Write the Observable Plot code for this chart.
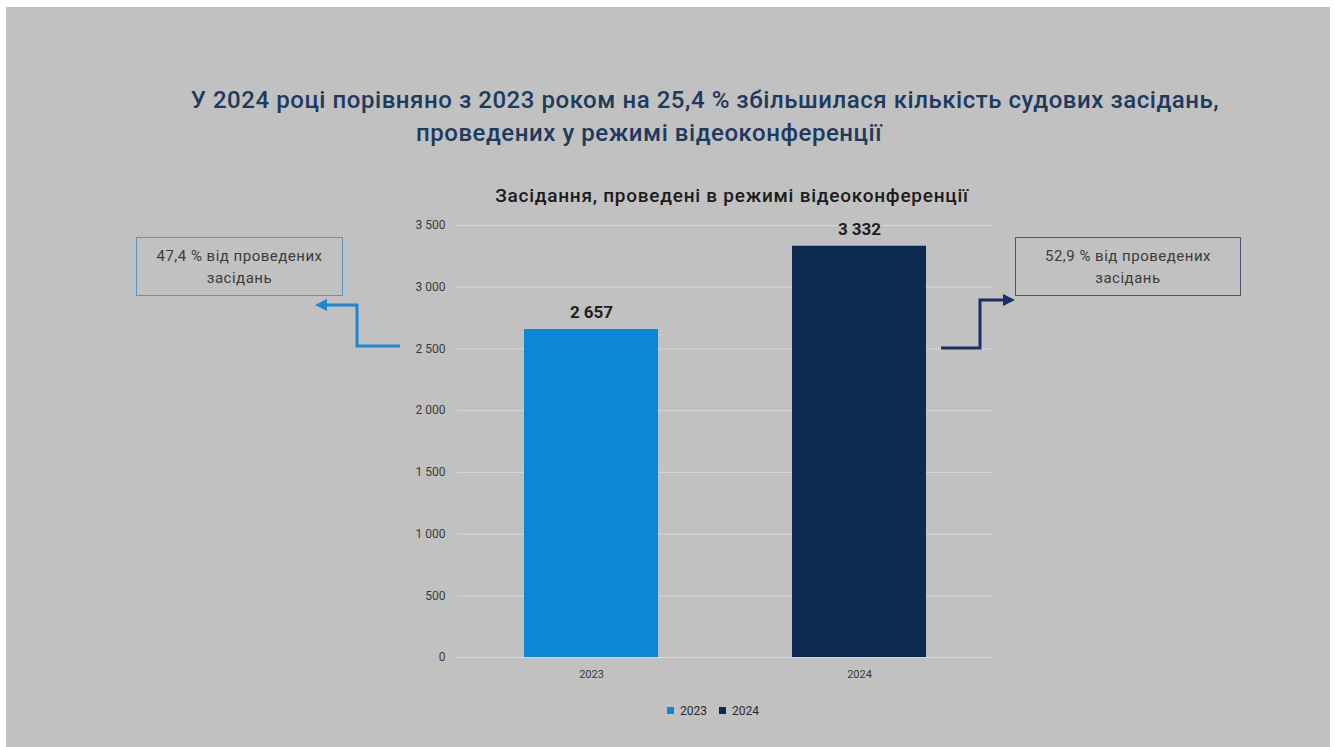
<!DOCTYPE html>
<html><head><meta charset="utf-8">
<script src="https://cdn.jsdelivr.net/npm/d3@7"></script>
<script src="https://cdn.jsdelivr.net/npm/@observablehq/plot@0.6"></script>
<style>
html,body{margin:0;padding:0;background:#fff;}
body{width:1335px;height:747px;position:relative;overflow:hidden;font-family:Roboto,"Noto Sans",sans-serif;}
#bg{position:absolute;left:6px;top:7px;width:1324px;height:740px;background:#c1c1c1;}
.abs{position:absolute;white-space:nowrap;}
.title{font-size:24px;font-weight:500;color:#1d3a5f;line-height:30px;text-align:center;width:1100px;letter-spacing:0.55px;}
.sub{font-size:19px;font-weight:500;color:#1b1b1b;line-height:24px;text-align:center;width:700px;letter-spacing:0.75px;}
.box{position:absolute;box-sizing:border-box;font-size:15px;color:#3c3c3c;text-align:center;line-height:22px;padding-top:7px;letter-spacing:0.5px;}
#chart{position:absolute;left:0;top:200px;}
#legend{position:absolute;left:619px;top:694px;width:200px;display:flex;justify-content:center;}
#arrows{position:absolute;left:0;top:0;}
</style>
</head><body>
<div id="bg"></div>
<div class="abs title" id="t1"></div>
<div class="abs title" id="t2"></div>
<div class="abs sub" id="sub"></div>
<div id="chart"></div>
<div id="legend"></div>
<div class="box" id="boxL"></div>
<div class="box" id="boxR"></div>
<svg id="arrows" width="1335" height="747"></svg>
<script>
// ---- data ----
const years = ["2023", "2024"];
const values = [2657, 3332];
const barColors = ["#0a88d6", "#0d2a50"];
const yTicks = [0, 500, 1000, 1500, 2000, 2500, 3000, 3500];
const titleLines = [
  "У 2024 році порівняно з 2023 роком на 25,4 % збільшилася кількість судових засідань,",
  "проведених у режимі відеоконференції"
];
const subtitle = "Засідання, проведені в режимі відеоконференції";
const shareLabels = ["47,4 % від проведених", "52,9 % від проведених"];
const shareSuffix = "засідань";

// ---- helpers ----
const loc = d3.formatLocale({decimal: ",", thousands: "\u00a0", grouping: [3], currency: ["", ""]});
const fmt = loc.format(",d");
const data = years.map((y, i) => ({year: y, value: values[i]}));

// ---- texts ----
const t1 = document.getElementById("t1");
t1.textContent = titleLines[0];
t1.style.left = (705 - 550) + "px"; t1.style.top = (100 - 15) + "px";
const t2 = document.getElementById("t2");
t2.textContent = titleLines[1];
t2.style.left = (649 - 550) + "px"; t2.style.top = (133 - 15) + "px";
const sub = document.getElementById("sub");
sub.textContent = subtitle;
sub.style.left = (732 - 350) + "px"; sub.style.top = (196 - 12) + "px";

// ---- chart ----
const chart = Plot.plot({
  width: 1335,
  height: 500,
  marginLeft: 457,
  marginRight: 343,
  marginTop: 25,
  marginBottom: 43,
  style: {background: "transparent", fontFamily: "Roboto, sans-serif", fontSize: "11px", color: "#3a3a3a", overflow: "visible"},
  x: {domain: years, paddingInner: 0.5, paddingOuter: 0.245, label: null},
  y: {domain: [0, 3500], label: null},
  color: {domain: years, range: barColors},
  marks: [
    Plot.ruleY(yTicks, {stroke: "#d8d8d8", strokeWidth: 1}),
    Plot.barY(data, {x: "year", y: "value", fill: "year"}),
    Plot.text(data, {x: "year", y: "value", text: d => fmt(d.value), dy: -17, fontSize: 17, fontWeight: "bold", fill: "#1f1f1f"}),
    Plot.axisX({tickSize: 0, tickPadding: 13, fontSize: 11}),
    Plot.axisY({ticks: yTicks, tickFormat: fmt, tickSize: 0, tickPadding: 12, fontSize: 12})
  ]
});
document.getElementById("chart").appendChild(chart);

// ---- legend ----
const leg = Plot.legend({
  color: {domain: years, range: barColors},
  legend: "swatches",
  swatchSize: 7,
  style: {fontFamily: "Roboto, sans-serif", fontSize: "12px", color: "#2a2a2a", background: "transparent"}
});
document.getElementById("legend").appendChild(leg);

// ---- callout boxes ----
function box(id, lines, left, top, w, h, border) {
  const el = document.getElementById(id);
  el.style.left = left + "px"; el.style.top = top + "px";
  el.style.width = w + "px"; el.style.height = h + "px";
  el.style.border = "1.5px solid " + border;
  el.innerHTML = lines.map(s => "<div>" + s + "</div>").join("");
}
box("boxL", [shareLabels[0], shareSuffix], 136, 237, 207, 59, "#5b93c2");
box("boxR", [shareLabels[1], shareSuffix], 1015, 237, 226, 59, "#4b5372");

// ---- annotation arrows ----
const svg = d3.select("#arrows");
function arrow(points, tip, dir, color) {
  svg.append("polyline").attr("points", points.map(p => p.join(",")).join(" "))
    .attr("fill", "none").attr("stroke", color).attr("stroke-width", 3);
  const [tx, ty] = tip;
  const back = tx - dir * 12;
  svg.append("polygon").attr("points", `${tx},${ty} ${back},${ty - 6} ${back},${ty + 6}`).attr("fill", color);
}
arrow([[400, 346], [357, 346], [357, 305], [326, 305]], [315, 305], -1, "#1a88d4");
arrow([[941, 348], [980, 348], [980, 300], [1004, 300]], [1015, 300], 1, "#1c2d6c");
</script>
</body></html>
